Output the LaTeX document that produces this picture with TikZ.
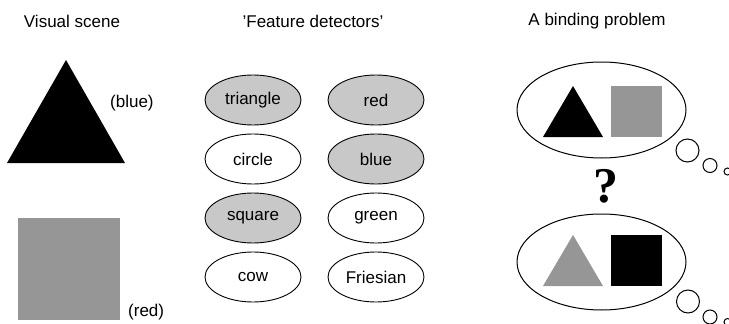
\documentclass[tikz,border=0pt]{standalone}
\usepackage{fontspec}
\setmainfont{Liberation Sans}
\newfontfamily\qfont{Liberation Serif}
\usetikzlibrary{shapes.geometric}
\definecolor{detgray}{RGB}{200,200,200}
\definecolor{shapegray}{RGB}{150,150,150}
\tikzset{
  lbl/.style={font=\fontsize{17}{20}\selectfont, inner sep=0pt},
  detector/.style={ellipse, draw, line width=0.9pt, minimum width=96pt, minimum height=50pt, inner sep=0pt, font=\fontsize{17}{20}\selectfont},
  on/.style={fill=detgray},
  off/.style={fill=white},
  bubble/.style={ellipse, draw, line width=1pt, minimum width=169pt, minimum height=96pt, inner sep=0pt},
  puff/.style={circle, draw, line width=1pt, inner sep=0pt}
}
\begin{document}
\begin{tikzpicture}[x=1pt,y=-1pt]
\useasboundingbox (0,0) rectangle (729,324);
% titles
\node[lbl] (t1) at (72,21) {Visual scene};
\node[lbl] (t2) at (313,21) {'Feature detectors'};
\node[lbl] (t3) at (597,21) {A binding problem};
% visual scene
\fill[black] (66,60) -- (125,163) -- (7,163) -- cycle;
\node[lbl, anchor=west] (blue) at (110,103) {(blue)};
\fill[shapegray] (18,218) rectangle (120,320);
\node[lbl, anchor=west] (red) at (128,312) {(red)};
% feature detectors
\node[detector, on] (d1) at (253,100) {triangle};
\node[detector, off] (d2) at (253,159) {circle};
\node[detector, on] (d3) at (253,218) {square};
\node[detector, off] (d4) at (253,277) {cow};
\node[detector, on] (d5) at (376,100) {red};
\node[detector, on] (d6) at (376,159) {blue};
\node[detector, off] (d7) at (376,218) {green};
\node[detector, off] (d8) at (376,277) {Friesian};
% binding problem - upper
\node[bubble] (b1) at (601.5,110) {};
\fill[black] (573,86) -- (603,137) -- (543,137) -- cycle;
\fill[shapegray] (611,86) rectangle (662,137);
\node[puff, minimum size=23pt] (p1) at (687.5,150.5) {};
\node[puff, minimum size=14pt] (p2) at (710,165.5) {};
\node[puff, minimum size=7pt] (p3) at (727.5,171.5) {};
% question mark
\node[inner sep=0pt, font=\qfont\bfseries\fontsize{50}{50}\selectfont] (q) at (606,186) {?};
% binding problem - lower
\node[bubble] (b2) at (601.5,262) {};
\fill[shapegray] (573,235) -- (603,286) -- (543,286) -- cycle;
\fill[black] (611,235) rectangle (662,286);
\node[puff, minimum size=23pt] (p4) at (688,301.5) {};
\node[puff, minimum size=14pt] (p5) at (710,317) {};
\node[puff, minimum size=7pt] (p6) at (727.5,322) {};
\end{tikzpicture}
\end{document}
